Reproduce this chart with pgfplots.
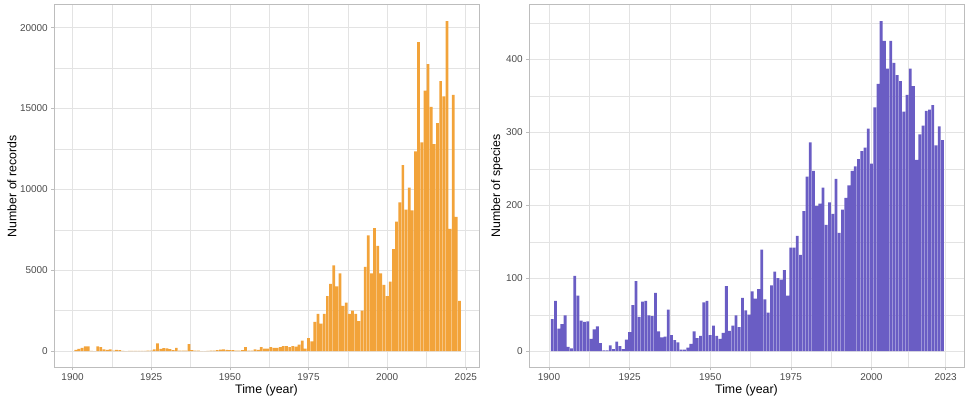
\documentclass[border=0pt]{standalone}
\usepackage{fontspec}
\setmainfont{Liberation Sans}
\usepackage{pgfplots}
\usepackage{pgfplotstable}
\pgfplotsset{compat=1.18}

\definecolor{barorange}{RGB}{242,163,58}
\definecolor{barpurple}{RGB}{106,93,196}
\definecolor{gridgrey}{gray}{0.89}
\definecolor{bordergrey}{gray}{0.74}
\definecolor{ticklab}{gray}{0.30}

% records per year
\pgfplotstableread{
year n
1901 80
1902 140
1903 190
1904 290
1905 290
1906 10
1907 0
1908 290
1909 250
1910 100
1911 70
1912 100
1913 20
1914 80
1915 50
1916 10
1917 0
1918 5
1919 5
1920 10
1921 5
1922 10
1923 5
1924 20
1925 30
1926 100
1927 470
1928 140
1929 180
1930 160
1931 120
1932 50
1933 200
1934 20
1935 30
1936 30
1937 430
1938 50
1939 30
1940 20
1941 0
1942 0
1943 10
1944 20
1945 30
1946 50
1947 90
1948 100
1949 80
1950 50
1951 50
1952 30
1953 30
1954 50
1955 250
1956 30
1957 30
1958 100
1959 80
1960 250
1961 150
1962 150
1963 250
1964 200
1965 200
1966 250
1967 300
1968 300
1969 250
1970 300
1971 280
1972 400
1973 640
1974 150
1975 800
1976 600
1977 1800
1978 2300
1979 1700
1980 2300
1981 3400
1982 4150
1983 5300
1984 4000
1985 4800
1986 2800
1987 3000
1988 2300
1989 2500
1990 2300
1991 1850
1992 2500
1993 5200
1994 7150
1995 4800
1996 7600
1997 6500
1998 4800
1999 4100
2000 3400
2001 4300
2002 6300
2003 8000
2004 9200
2005 11500
2006 8750
2007 10100
2008 8700
2009 12350
2010 19100
2011 12900
2012 16100
2013 17750
2014 15100
2015 12800
2016 14100
2017 16700
2018 15750
2019 20400
2020 7550
2021 15850
2022 8300
2023 3100
}\records

% species per year
\pgfplotstableread{
year n
1901 44
1902 69
1903 31
1904 37
1905 49
1906 6
1907 4
1908 103
1909 76
1910 42
1911 40
1912 41
1913 17
1914 30
1915 34
1916 11
1917 1
1918 1
1919 8
1920 3
1921 13
1922 7
1923 3
1924 16
1925 26
1926 63
1927 96
1928 47
1929 68
1930 69
1931 49
1932 48
1933 80
1934 27
1935 19
1936 20
1937 57
1938 22
1939 15
1940 12
1941 2
1942 2
1943 5
1944 10
1945 27
1946 18
1947 21
1948 67
1949 69
1950 22
1951 35
1952 21
1953 17
1954 25
1955 89
1956 28
1957 35
1958 49
1959 33
1960 73
1961 56
1962 50
1963 82
1964 72
1965 85
1966 139
1967 71
1968 53
1969 90
1970 109
1971 100
1972 98
1973 111
1974 76
1975 142
1976 142
1977 158
1978 132
1979 192
1980 239
1981 286
1982 247
1983 199
1984 202
1985 224
1986 173
1987 204
1988 188
1989 236
1990 162
1991 194
1992 210
1993 227
1994 247
1995 253
1996 263
1997 274
1998 279
1999 305
2000 257
2001 334
2002 366
2003 452
2004 425
2005 387
2006 425
2007 395
2008 378
2009 370
2010 328
2011 351
2012 387
2013 363
2014 262
2015 297
2016 309
2017 329
2018 331
2019 337
2020 282
2021 308
2022 289
}\species

\pgfplotsset{
  panel/.style={
    scale only axis,
    ybar, bar width=0.87,
    enlargelimits=false,
    axis line style={bordergrey, line width=0.6pt},
    tick style={bordergrey, line width=0.5pt},
    tick align=outside,
    major tick length=2.75pt,
    minor tick length=0pt,
    xtick pos=lower, ytick pos=left,
    grid=both,
    major grid style={gridgrey, line width=0.6pt},
    minor grid style={gridgrey, line width=0.3pt},
    tick label style={font=\fontsize{10}{12}\selectfont, text=ticklab},
    label style={font=\fontsize{12.4}{14}\selectfont},
    /pgf/number format/assume math mode=true,
    scaled y ticks=false,
    xticklabel style={/pgf/number format/1000 sep={}},
    yticklabel style={/pgf/number format/1000 sep={}},
    xlabel={Time (year)},
    xlabel style={at={(axis description cs:0.5,-0.061)}, anchor=center},
  }
}

\begin{document}
\begin{tikzpicture}
\useasboundingbox (0,0) rectangle (967bp,401bp);

\begin{axis}[
    panel,
    at={(54bp,33.3bp)}, anchor=south west,
    width=425bp, height=363bp,
    xmin=1894.1, xmax=2029.2,
    ymin=-1030, ymax=21420,
    xtick={1900,1925,1950,1975,2000,2025},
    minor x tick num=1,
    ytick={0,5000,10000,15000,20000},
    minor y tick num=1,
    ylabel={Number of records},
    ylabel style={at={(axis description cs:-0.0988,0.5)}, anchor=center},
]
\addplot[fill=barorange, draw=none] table[x=year, y=n] {\records};
\end{axis}

\begin{axis}[
    panel,
    at={(529bp,33.3bp)}, anchor=south west,
    width=435bp, height=363bp,
    xmin=1893.8, xmax=2028.7,
    ymin=-22.6, ymax=474.6,
    xtick={1900,1925,1950,1975,2000,2023},
    minor xtick={1912.5,1937.5,1962.5,1987.5,2011.5},
    ytick={0,100,200,300,400},
    minor ytick={50,150,250,350,450},
    ylabel={Number of species},
    ylabel style={at={(axis description cs:-0.0736,0.5)}, anchor=center},
]
\addplot[fill=barpurple, draw=none] table[x=year, y=n] {\species};
\end{axis}
\end{tikzpicture}
\end{document}
